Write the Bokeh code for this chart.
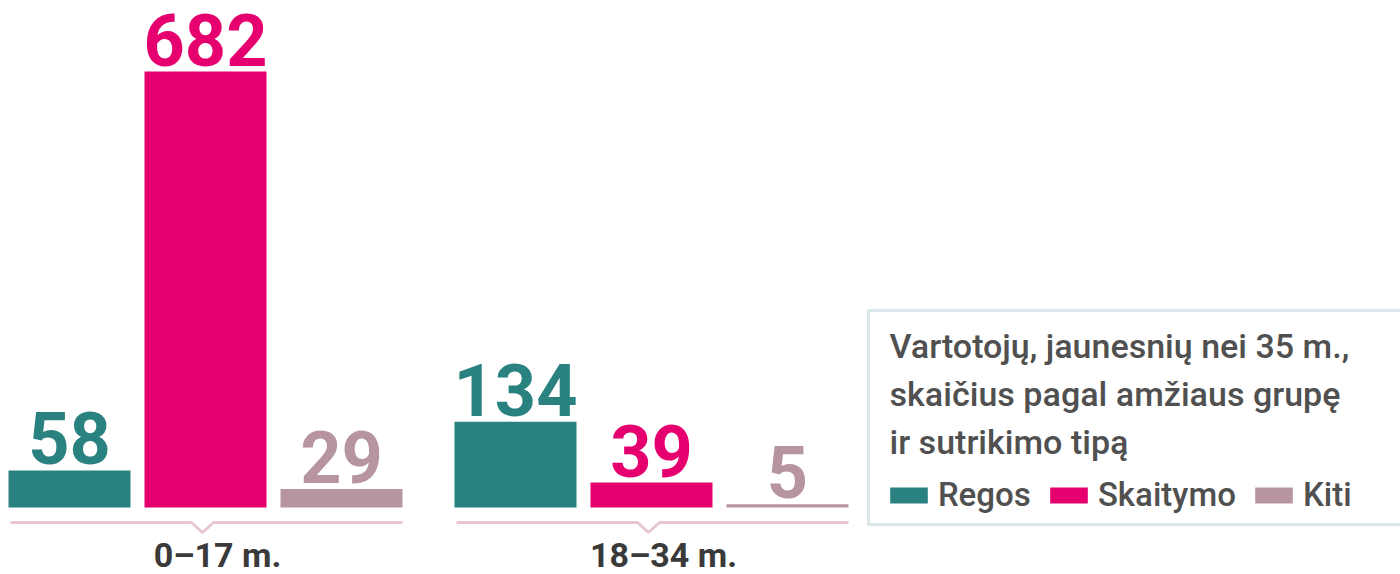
from bokeh.plotting import figure
from bokeh.models import Range1d, Legend, LegendItem, ColumnDataSource
from bokeh.core.properties import value
from bokeh.embed import file_html
from bokeh.resources import INLINE

# ---- data ----
groups = ["0–17 m.", "18–34 m."]
series = ["Regos", "Skaitymo", "Kiti"]
regos = [58, 134]
skaitymo = [682, 39]
kiti = [29, 5]
colors = ["#2a8280", "#e6006f", "#b795a0"]
legend_title = ["Vartotojų, jaunesnių nei 35 m.,",
                "skaičius pagal amžiaus grupę",
                "ir sutrikimo tipą"]

# ---- layout (pixels) ----
W, H = 1400, 574
BASE = 507          # picture y of zero line
S = 436 / 682       # px per unit
BW, STEP, GSTEP, G0 = 122, 136, 446, 8
TFONT = "Roboto Medium"


def px(x):
    return x


def py(y):
    return (BASE - y) / S


y1 = BASE / S
y0 = y1 - H / S

p = figure(width=W, height=H, output_backend="svg", toolbar_location=None,
           x_range=Range1d(0, W), y_range=Range1d(y0, y1),
           min_border=0, outline_line_color=None, background_fill_color="white",
           border_fill_color="white")
p.xaxis.visible = False
p.yaxis.visible = False
p.grid.visible = False

vals = [regos, skaitymo, kiti]
renderers = []
for si, (name, v, c) in enumerate(zip(series, vals, colors)):
    xs = [px(G0 + gi * GSTEP + si * STEP + BW / 2) for gi in range(len(groups))]
    src = ColumnDataSource(dict(x=xs, top=v, lab=[str(a) for a in v]))
    r = p.vbar(x="x", top="top", bottom=0, width=BW, source=src,
               fill_color=c, line_color=None)
    renderers.append(r)
    p.text(x="x", y="top", text="lab", source=src, text_align="center",
           text_baseline="alphabetic", y_offset=-32,
           text_font=value("Roboto"), text_font_style="bold",
           text_font_size="72px", text_color=c)

# group brackets and labels
for gi, g in enumerate(groups):
    left = G0 + gi * GSTEP + 2
    right = G0 + gi * GSTEP + 2 * STEP + BW
    c = (G0 + gi * GSTEP + right) / 2 - 3
    xs = [px(left), px(c - 11), px(c), px(c + 11), px(right)]
    ys = [py(522), py(522), py(532), py(522), py(522)]
    p.line(xs, ys, line_color="#e8c5d3", line_width=3)
    p.text(x=[px(c + 15)], y=[py(566)], text=[g], text_align="center",
           text_baseline="alphabetic", y_offset=-12, text_font=value("Roboto"),
           text_font_style="bold", text_font_size="34px", text_color="#3a3a3a")

# legend box
p.quad(left=[px(868)], right=[px(1430)], top=[py(310)], bottom=[py(524)],
       fill_color="white", line_color="#d8e7e7", line_width=3)
for i, line in enumerate(legend_title):
    p.text(x=[px(889)], y=[py(357 + i * 48)], text=[line],
           text_align="left", text_baseline="alphabetic", y_offset=-12,
           text_font=value(TFONT), text_font_size="34px",
           text_color="#505050")

legend = Legend(items=[LegendItem(label=n, renderers=[r]) for n, r in zip(series, renderers)],
                orientation="horizontal", location=(885, 574 - 514),
                glyph_width=47, glyph_height=20, label_standoff=6, spacing=14,
                padding=0, margin=0, border_line_color=None,
                background_fill_alpha=0, label_text_font=TFONT,
                label_text_font_size="33px", label_text_color="#505050",
                label_height=36)
p.add_layout(legend)

open("out.html", "w").write(file_html(p, INLINE))
